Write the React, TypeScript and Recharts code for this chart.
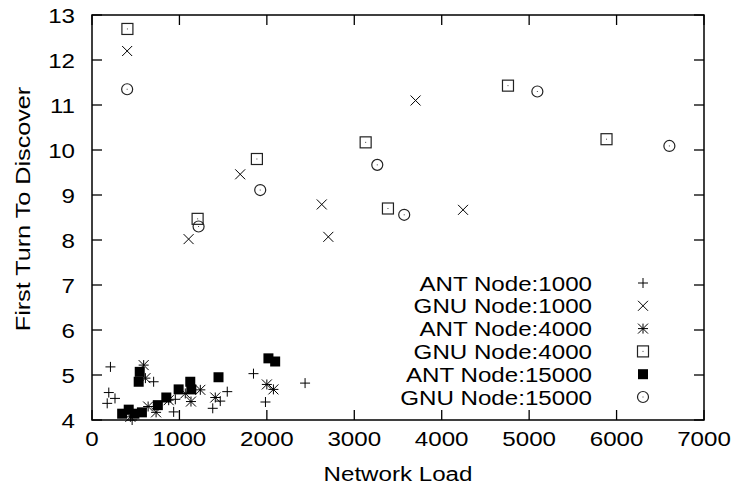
import { ScatterChart, Scatter, XAxis, YAxis, ReferenceArea, Legend } from 'recharts'

// values: [network load, first turn to discover]
const antNode1000 = [
  [211, 5.18], [192, 4.61], [263, 4.48], [174, 4.37], [459, 4.0], [705, 4.85], [953, 4.46],
  [934, 4.18], [1381, 4.26], [1467, 4.42], [1547, 4.63], [1847, 5.03], [1984, 4.4], [2437, 4.82],
]
const gnuNode1000 = [
  [402, 12.2], [1105, 8.02], [1695, 9.46], [2628, 8.79], [2703, 8.07], [3701, 11.1], [4244, 8.67],
]
const antNode4000 = [
  [591, 5.22], [611, 4.93], [642, 4.3], [733, 4.17], [877, 4.44], [1067, 4.59], [1132, 4.41],
  [1239, 4.67], [1410, 4.5], [2000, 4.79], [2075, 4.68], [439, 4.07],
]
const gnuNode4000 = [
  [405, 12.69], [1208, 8.47], [1886, 9.8], [3130, 10.17], [3385, 8.7], [4758, 11.43], [5885, 10.24],
]
const antNode15000 = [
  [345, 4.14], [420, 4.23], [485, 4.14], [571, 4.17], [546, 5.07], [534, 4.85], [753, 4.33],
  [850, 4.5], [991, 4.68], [1124, 4.85], [1136, 4.68], [1447, 4.95], [2018, 5.37], [2095, 5.3],
]
const gnuNode15000 = [
  [402, 11.35], [1219, 8.3], [1924, 9.11], [3263, 9.67], [3571, 8.56], [5094, 11.3], [6604, 10.09],
]

const xTicks = [0, 1000, 2000, 3000, 4000, 5000, 6000, 7000]
const yTicks = [4, 5, 6, 7, 8, 9, 10, 11, 12, 13]

const PLOT_LEFT = 92
const PLOT_RIGHT = 704
const PLOT_TOP = 15
const PLOT_BOTTOM = 420
const FONT = "'Liberation Sans', Arial, Helvetica, sans-serif"
const FS = 21
const SX = 1.15

const toPoints = (arr: number[][]) => arr.map(([x, y]) => ({ x, y }))

// marker shapes
const Plus = ({ cx, cy }: any) => (
  <path d={`M${cx - 5},${cy}H${cx + 5}M${cx},${cy - 5}V${cy + 5}`} stroke="#000" strokeWidth={1} fill="none" />
)
const Cross = ({ cx, cy }: any) => (
  <path d={`M${cx - 5},${cy - 5}L${cx + 5},${cy + 5}M${cx - 5},${cy + 5}L${cx + 5},${cy - 5}`} stroke="#000" strokeWidth={1} fill="none" />
)
const Star = ({ cx, cy }: any) => (
  <path
    d={`M${cx - 5},${cy}H${cx + 5}M${cx},${cy - 5}V${cy + 5}M${cx - 5},${cy - 5}L${cx + 5},${cy + 5}M${cx - 5},${cy + 5}L${cx + 5},${cy - 5}`}
    stroke="#000" strokeWidth={1} fill="none"
  />
)
const Box = ({ cx, cy }: any) => (
  <g>
    <rect x={cx - 5.5} y={cy - 5.5} width={11} height={11} stroke="#222" strokeWidth={1.2} fill="none" />
    <rect x={cx - 0.5} y={cy - 0.5} width={1} height={1} fill="#444" />
  </g>
)
const FilledBox = ({ cx, cy }: any) => (
  <rect x={cx - 5} y={cy - 5} width={10} height={10} fill="#000" />
)
const Ring = ({ cx, cy }: any) => (
  <g>
    <circle cx={cx} cy={cy} r={5.5} stroke="#222" strokeWidth={1.2} fill="none" />
    <rect x={cx - 0.5} y={cy - 0.5} width={1} height={1} fill="#444" />
  </g>
)

const series = [
  { name: 'ANT Node:1000', data: antNode1000, Shape: Plus },
  { name: 'GNU Node:1000', data: gnuNode1000, Shape: Cross },
  { name: 'ANT Node:4000', data: antNode4000, Shape: Star },
  { name: 'GNU Node:4000', data: gnuNode4000, Shape: Box },
  { name: 'ANT Node:15000', data: antNode15000, Shape: FilledBox },
  { name: 'GNU Node:15000', data: gnuNode15000, Shape: Ring },
]

const XTick = ({ x, payload }: any) => (
  <g>
    <line x1={x} x2={x} y1={PLOT_BOTTOM} y2={PLOT_BOTTOM - 10} stroke="#000" strokeWidth={1.3} />
    <line x1={x} x2={x} y1={PLOT_TOP} y2={PLOT_TOP + 10} stroke="#000" strokeWidth={1.3} />
    <text transform={`translate(${x},${PLOT_BOTTOM + 26}) scale(${SX},1)`} textAnchor="middle" fontFamily={FONT} fontSize={FS} fill="#000">
      {payload.value}
    </text>
  </g>
)

const YTick = ({ y, payload }: any) => (
  <g>
    <line x1={PLOT_LEFT} x2={PLOT_LEFT + 10} y1={y} y2={y} stroke="#000" strokeWidth={1.3} />
    <line x1={PLOT_RIGHT} x2={PLOT_RIGHT - 10} y1={y} y2={y} stroke="#000" strokeWidth={1.3} />
    <text transform={`translate(${PLOT_LEFT - 17},${y + 7.5}) scale(${SX},1)`} textAnchor="end" fontFamily={FONT} fontSize={FS} fill="#000">
      {payload.value}
    </text>
  </g>
)

const renderLegend = () => (
  <svg width={330} height={150}>
    {series.map((s, i) => {
      const cy = 15 + i * 22.8
      const { Shape } = s
      return (
        <g key={s.name}>
          <text transform={`translate(212,${cy + 7.5}) scale(${SX},1)`} textAnchor="end" fontFamily={FONT} fontSize={FS} fill="#000">
            {s.name}
          </text>
          <Shape cx={263} cy={cy} />
        </g>
      )
    })}
  </svg>
)

export default function App() {
  return (
    <div style={{ position: 'absolute', left: 0, top: 0, width: 734, height: 490, background: '#fff' }}>
      <ScatterChart width={734} height={490} margin={{ top: PLOT_TOP, right: 734 - PLOT_RIGHT, bottom: 0, left: 0 }}>
        <XAxis
          type="number"
          dataKey="x"
          domain={[0, 7000]}
          ticks={xTicks}
          height={70}
          axisLine={false}
          tickLine={false}
          tickSize={0}
          tickMargin={0}
          tick={<XTick />}
          interval={0}
          label={{
            content: () => (
              <text transform={`translate(398,481) scale(${SX},1)`} textAnchor="middle" fontFamily={FONT} fontSize={FS} fill="#000">
                Network Load
              </text>
            ),
          }}
        />
        <YAxis
          type="number"
          dataKey="y"
          domain={[4, 13]}
          ticks={yTicks}
          width={PLOT_LEFT}
          axisLine={false}
          tickLine={false}
          tickSize={0}
          tickMargin={0}
          tick={<YTick />}
          interval={0}
          label={{
            content: () => (
              <text transform={`translate(30,209) rotate(-90) scale(1.2,1)`} textAnchor="middle" fontFamily={FONT} fontSize={FS} fill="#000">
                First Turn To Discover
              </text>
            ),
          }}
        />
        <ReferenceArea x1={0} x2={7000} y1={4} y2={13} fill="none" fillOpacity={0} stroke="#000" strokeWidth={1.5} />
        <Legend
          layout="horizontal"
          align="center"
          verticalAlign="middle"
          content={renderLegend}
          wrapperStyle={{ left: 380, top: 268, width: 330, height: 150 }}
        />
        {series.map((s) => (
          <Scatter
            key={s.name}
            name={s.name}
            data={toPoints(s.data)}
            isAnimationActive={false}
            shape={(p: any) => <s.Shape cx={p.cx} cy={p.cy} />}
          />
        ))}
      </ScatterChart>
    </div>
  )
}
